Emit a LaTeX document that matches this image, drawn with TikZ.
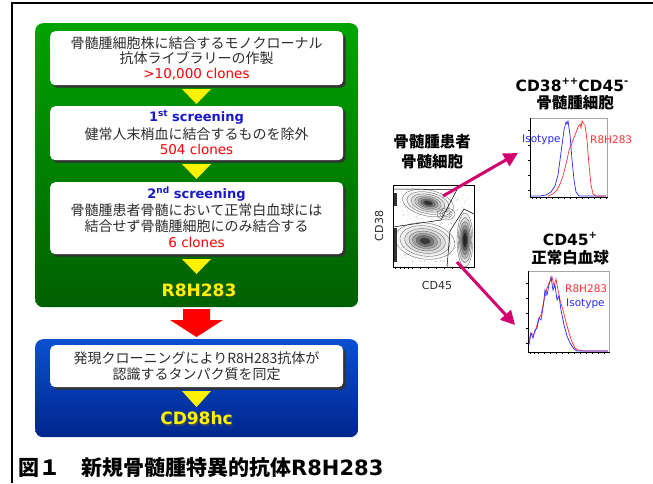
\documentclass[tikz,border=0pt]{standalone}
\usepackage{fontspec}
\setmainfont{DejaVu Sans}
\newfontfamily\jp{Noto Sans CJK JP}
\usetikzlibrary{arrows.meta,shadows}
\definecolor{gtop}{RGB}{0,163,0}
\definecolor{gbot}{RGB}{0,96,0}
\definecolor{btop}{RGB}{10,80,210}
\definecolor{bbot}{RGB}{0,38,140}
\definecolor{scrblue}{RGB}{25,25,200}
\definecolor{mag}{RGB}{210,0,110}
\definecolor{hred}{RGB}{255,50,50}
\definecolor{hblue}{RGB}{40,40,255}
\definecolor{jptxt}{RGB}{45,45,45}
\tikzset{
  jpl/.style={font=\jp\fontsize{14}{16}\selectfont, text=jptxt, inner sep=0pt},
  clones/.style={font=\fontsize{13.5}{15}\selectfont, text=red, inner sep=0pt},
  scr/.style={font=\bfseries\fontsize{13}{15}\selectfont, text=scrblue, inner sep=0pt},
  wbox/.style={fill=white, rounded corners=5pt, minimum width=293pt, anchor=north west, inner sep=0pt,
     drop shadow={shadow xshift=2.5pt, shadow yshift=-2.5pt, fill=black!80, opacity=1}},
  bigbox/.style={rounded corners=8pt, minimum width=323pt, anchor=north west, inner sep=0pt},
  yel/.style={font=\bfseries\fontsize{17}{20}\selectfont, text=yellow, inner sep=0pt},
  yelsh/.style={font=\bfseries\fontsize{17}{20}\selectfont, text=black!70, inner sep=0pt, opacity=0.7},
  rtitle/.style={font=\bfseries\fontsize{15.5}{18}\selectfont, inner sep=0pt},
  rjtitle/.style={font=\jp\bfseries\fontsize{15.5}{18}\selectfont, inner sep=0pt},
  hlab/.style={font=\fontsize{10.5}{12}\selectfont, inner sep=0pt, anchor=west},
  axlab/.style={font=\fontsize{11}{13}\selectfont, inner sep=0pt, text=jptxt},
  hframe/.style={draw=gray!70, line width=0.6pt, anchor=north west, inner sep=0pt},
  marrow/.style={draw=mag, line width=3pt, -{Triangle[length=14pt,width=14pt]}},
  cont/.style={draw=black!65, line width=0.3pt},
}
\begin{document}
\begin{tikzpicture}[x=1pt,y=-1pt]
\useasboundingbox (0,0) rectangle (653,483);
\fill[white] (0,0) rectangle (653,483);
% frame lines
\draw[line width=2pt] (12,483) -- (12,3) -- (653,3);

% green box
\node[bigbox, top color=gtop, bottom color=gbot, minimum height=284pt] (green) at (35,23) {};
% white boxes
\node[wbox, minimum height=54pt] (b1) at (50,31) {};
\node[wbox, minimum height=54pt] (b2) at (50,106) {};
\node[wbox, minimum height=72pt] (b3) at (50,182) {};

% texts box 1
\node[jpl] (t1a) at (196.5,43) {骨髄腫細胞株に結合するモノクローナル};
\node[jpl] (t1b) at (196.5,58.5) {抗体ライブラリーの作製};
\node[clones] (t1c) at (196.5,74) {>10,000 clones};
% box 2
\node[scr] (t2a) at (196.5,117) {1\raisebox{0.42em}{\fontsize{9}{9}\selectfont st} screening};
\node[jpl] (t2b) at (196.5,134.5) {健常人末梢血に結合するものを除外};
\node[clones] (t2c) at (196.5,149.5) {504 clones};
% box 3
\node[scr] (t3a) at (196.5,194) {2\raisebox{0.42em}{\fontsize{9}{9}\selectfont nd} screening};
\node[jpl] (t3b) at (196.5,210.5) {骨髄腫患者骨髄において正常白血球には};
\node[jpl] (t3c) at (196.5,226.5) {結合せず骨髄腫細胞にのみ結合する};
\node[clones] (t3d) at (196.5,242) {6 clones};

% yellow triangles
\fill[yellow] (182,89) -- (211,89) -- (196.5,104) -- cycle;
\fill[yellow] (182,164) -- (211,164) -- (196.5,179) -- cycle;
\fill[yellow] (182,259) -- (211,259) -- (196.5,274) -- cycle;
\node[yelsh] (r8s) at (200.2,291.7) {R8H283};
\node[yel] (r8) at (199,290.5) {R8H283};

% red arrow
\fill[red] (183,309) -- (210,309) -- (210,320) -- (223,320) -- (196.5,337) -- (170,320) -- (183,320) -- cycle;

% blue box
\node[bigbox, top color=btop, bottom color=bbot, minimum height=98pt] (blue) at (35,339) {};
\node[wbox, minimum height=42pt] (b4) at (50,345) {};
\node[jpl] (t4a) at (196.5,358.5) {発現クローニングによりR8H283抗体が};
\node[jpl] (t4b) at (196.5,374) {認識するタンパク質を同定};
\fill[yellow] (182,391) -- (211,391) -- (196.5,407) -- cycle;
\node[yelsh] (cds) at (197.7,419.7) {CD98hc};
\node[yel] (cd) at (196.5,418.5) {CD98hc};

% caption
\node[anchor=west, inner sep=0pt, font=\fontsize{21}{25}\selectfont\bfseries] (cap) at (18,467)
  {{\jp 図１　新規骨髄腫特異的抗体}R8H283};

% right side titles
\node[rjtitle] (pt1) at (432,142) {骨髄腫患者};
\node[rjtitle] (pt2) at (432,162) {骨髄細胞};
\node[rtitle] (h1t1) at (572,85) {CD38\raisebox{0.45em}{\fontsize{10}{10}\selectfont ++}CD45\raisebox{0.45em}{\fontsize{10}{10}\selectfont -}};
\node[rjtitle] (h1t2) at (575,103) {骨髄腫細胞};
\node[rtitle] (h2t1) at (570,239) {CD45\raisebox{0.45em}{\fontsize{10}{10}\selectfont +}};
\node[rjtitle] (h2t2) at (570,258) {正常白血球};

% contour plot
\node[draw=black, line width=0.6pt, anchor=north west, inner sep=0pt, minimum width=81pt, minimum height=82pt] (cp) at (393,185) {};
\begin{scope}
\clip (393,185) rectangle (474,267);
\pgfmathsetseed{7}
\foreach \i in {1,...,300} {
  \pgfmathsetmacro{\rx}{400+70*rnd}
  \pgfmathsetmacro{\ry}{188+76*rnd}
  \fill[black!45] (\rx,\ry) circle (0.35pt);
}
% upper population
\begin{scope}[rotate around={-12:(428,203)}]
\foreach \s/\c in {1/3,0.82/7,0.66/13,0.52/22,0.4/36,0.29/55,0.18/80}
  \draw[cont, fill=black!\c] (428,203) ellipse[x radius=\s*26pt, y radius=\s*13pt];
\end{scope}
% lower-left population
\begin{scope}[rotate around={-8:(425,241)}]
\foreach \s/\c in {1/3,0.84/7,0.68/13,0.54/22,0.42/36,0.3/55,0.18/78}
  \draw[cont, fill=black!\c] (425,241) ellipse[x radius=\s*30pt, y radius=\s*18pt];
\end{scope}
% middle small contours
\foreach \s in {1,0.7,0.45}
  \draw[cont] (446,214) ellipse[x radius=\s*9pt, y radius=\s*6pt];
% right population
\foreach \s/\c in {1/6,0.84/15,0.68/28,0.54/45,0.4/65,0.27/85}
  \draw[cont, fill=black!\c] (465,240) ellipse[x radius=\s*8pt, y radius=\s*27pt];
% left edge dense
\fill[black!80] (393.5,193) rectangle (396.5,206);
\fill[black!80] (393.5,228) rectangle (396.5,262);
% gates
\draw[black, line width=0.5pt] (393,189) -- (457,189.5) -- (441,220) -- (393,227);
\draw[black, line width=0.5pt] (447,267) -- (450,231) -- (464,209) -- (474,214);
\end{scope}
\foreach \x in {395,400,404,408,412,420,428,436,444,452,460,468}
  \draw[line width=0.3pt] (\x,267) -- (\x,269);
\node[axlab, rotate=90] (cd38) at (379,226) {CD38};
\node[axlab] (cd45) at (437,285) {CD45};

% histogram 1
\node[hframe, minimum width=77pt, minimum height=79pt] (h1) at (530,118) {};
\draw[line width=0.6pt] (h1.north west) -- (h1.south west) -- (h1.south east);
\foreach \x in {532,536,540,546,552,558,564,570,576,582,588,594,600,606}
  \draw[line width=0.3pt] (\x,197) -- (\x,199);
\foreach \y in {130,145,160,175,190}
  \draw[line width=0.3pt] (530,\y) -- (528,\y);
\draw[hblue, line width=0.7pt] plot coordinates {(531,196) (540,196) (546,195) (551,192) (555,186) (558,175) (560,160) (562,145) (564,130) (566,122) (567,124) (568,121) (570,135) (572,160) (574,180) (576,192) (579,196) (606,196)};
\draw[hred, line width=0.7pt] plot coordinates {(548,196) (553,194) (557,190) (560,184) (563,176) (565,168) (567,160) (569,150) (571,146) (573,140) (575,135) (577,130) (578,127) (580,124) (581,128) (582,121) (583,123) (585,125) (587,140) (589,165) (591,185) (593,194) (596,196) (606,196)};
\node[hlab, text=hblue] (iso1) at (522,140) {Isotype};
\node[hlab, text=hred] (r81) at (590,140) {R8H283};

% histogram 2
\node[hframe, minimum width=81pt, minimum height=81pt] (h2) at (528,271) {};
\draw[line width=0.6pt] (h2.north west) -- (h2.south west) -- (h2.south east);
\foreach \x in {530,534,538,544,550,556,562,568,574,580,586,592,598,604}
  \draw[line width=0.3pt] (\x,352) -- (\x,354);
\foreach \y in {283,298,313,328,343}
  \draw[line width=0.3pt] (528,\y) -- (526,\y);
\draw[hred, line width=0.7pt] plot coordinates {(529,340) (531,333) (533,335) (535,332) (537,325) (539,318) (541,315) (543,305) (545,297) (547,288) (549,283) (551,280) (552,277) (554,286) (556,279) (558,290) (560,300) (563,310) (566,322) (569,333) (572,342) (575,348) (578,350) (584,351) (608,351)};
\draw[hblue, line width=0.7pt] plot coordinates {(529,345) (531,333) (533,338) (535,330) (537,328) (539,318) (541,320) (543,308) (545,290) (547,295) (549,285) (551,277) (553,290) (555,285) (557,300) (559,296) (561,310) (564,325) (567,336) (570,343) (574,349) (577,351) (608,351)};
\node[hlab, text=hred] (r82) at (565,289) {R8H283};
\node[hlab, text=hblue] (iso2) at (566,304) {Isotype};

% magenta arrows
\coordinate (a1s) at (443,196);
\coordinate (a1e) at (518,153);
\coordinate (a2s) at (457,262);
\coordinate (a2e) at (515,325);
\draw[marrow] (a1s) -- (a1e);
\draw[marrow] (a2s) -- (a2e);
\end{tikzpicture}
\end{document}
